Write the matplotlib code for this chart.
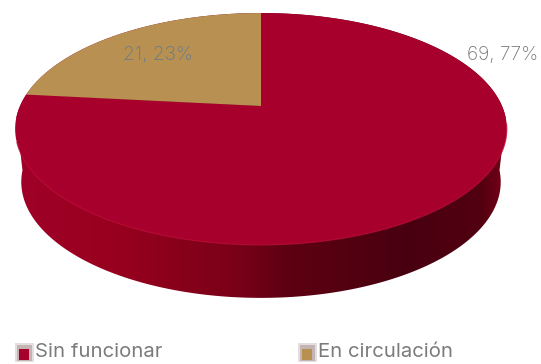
import numpy as np
import matplotlib
matplotlib.use('Agg')
import matplotlib.pyplot as plt
from matplotlib.colors import LinearSegmentedColormap
from matplotlib.patches import Polygon, Rectangle

categorias = ['Sin funcionar', 'En circulación']
valores = [69, 21]
etiquetas = ['69, 77%', '21, 23%']
colores = ['#A8002D', '#B89052']

plt.rcParams['font.family'] = ['Inter', 'DejaVu Sans']
GRIS = '#7b7b7b'

# geometria del disco en pixeles de la imagen
CX = 261
RX = 241
CP = 0.198
AP = -90.4
BP = 106
GROSOR = 53


# pasa un angulo (0 = arriba, sentido horario) a la cara de arriba en perspectiva
def cara(ang):
    u = np.sin(ang)
    v = np.cos(ang)
    d = 1 + CP * v
    return CX + RX * u / d, (AP * v + BP) / d


# borde de abajo del disco, un poco mas estrecho que la cara
def base(ang):
    x, y = cara(ang)
    return CX + (x - CX) * 0.975, y + GROSOR


fig = plt.figure(figsize=(5.41, 3.64), dpi=100)
ax = fig.add_axes([0, 0, 1, 1])
ax.set_xlim(0, 541)
ax.set_ylim(364, 0)
ax.axis('off')

# lateral con degradado
t = np.linspace(np.pi / 2 + 0.1, 3 * np.pi / 2 - 0.1, 200)
xa, ya = cara(t)
xb, yb = base(t)
xc, yc = cara(np.linspace(-np.pi / 2 - 0.1, np.pi / 2 + 0.1, 200))
lado = Polygon(np.r_[np.c_[xb, yb], np.c_[xc, yc]], closed=True, fc='none', ec='none')
ax.add_patch(lado)
cmap = LinearSegmentedColormap.from_list('lado', [
    (0.0, '#A00028'), (0.2, '#98001F'), (0.45, '#7A0018'), (0.55, '#5E0012'),
    (0.8, '#480010'), (0.95, '#520010'), (1.0, '#7A0018')])
im = ax.imshow(np.linspace(0, 1, 256)[None, :], extent=[15, 507, 364, 0], cmap=cmap,
               aspect='auto', zorder=1)
im.set_clip_path(lado)
ax.set_xlim(0, 541)
ax.set_ylim(364, 0)

# cara de arriba, los trozos salen de los valores
total = sum(valores)
ini = 0.0
for valor, color in zip(valores, colores):
    fin = ini + 2 * np.pi * valor / total
    ang = np.linspace(ini, fin, 200)
    x, y = cara(ang)
    pts = np.r_[[[CX, BP]], np.c_[x, y]]
    ax.add_patch(Polygon(pts, closed=True, fc=color, ec='none', zorder=2))
    ini = fin

# brillo del canto de delante
x, y = cara(np.linspace(np.pi * 0.55, np.pi * 1.4, 100))
ax.plot(x, y, color='#C0103A', lw=0.8, alpha=0.7, zorder=3)

ax.text(158, 55, etiquetas[1], color='#6a7a88', fontsize=13.8, fontweight='light',
        ha='center', va='center', zorder=4)
ax.text(503, 55, etiquetas[0], color='#757575', fontsize=13.8, fontweight='light',
        ha='center', va='center', zorder=4)

# leyenda hecha a mano
for xl, cat, color in zip([15, 298], categorias, colores):
    ax.add_patch(Rectangle((xl, 343), 19, 19, fc='#e4dede', ec='none', zorder=2))
    ax.add_patch(Rectangle((xl + 2, 345), 15, 16, fc='#c4b4b4', ec='none', zorder=2))
    ax.add_patch(Rectangle((xl + 4, 349), 10, 11, fc=color, ec='none', zorder=3))
    ax.text(xl + 20, 352, cat, color=GRIS, fontsize=14.6, ha='left', va='center', zorder=4)

fig.savefig('out.png', dpi=100)
